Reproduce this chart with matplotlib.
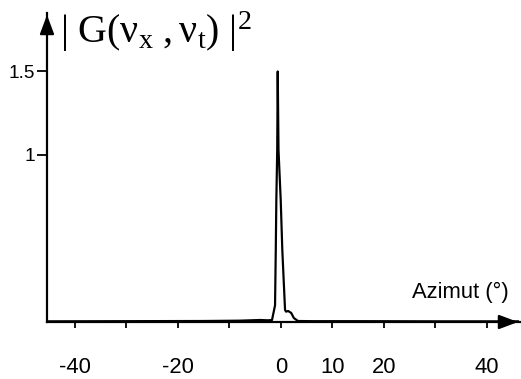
import numpy as np
import matplotlib
matplotlib.use("Agg")
import matplotlib.pyplot as plt
from matplotlib import font_manager

# data
azimut = [-45.0, -30.0, -15.0, -8.0, -4.0, -2.5, -1.73, -1.14, -1.0, -0.89, -0.72, -0.62,
          -0.47, -0.04, 0.27, 0.8, 1.0, 1.4, 2.0, 2.5, 3.3, 6.0, 15.0, 30.0, 46.0]
gain = [0.004, 0.005, 0.006, 0.008, 0.012, 0.010, 0.012, 0.10, 0.43, 0.73, 1.03, 1.50,
        1.03, 0.73, 0.43, 0.072, 0.062, 0.066, 0.054, 0.024, 0.006, 0.005, 0.005, 0.004, 0.004]

xticks = [-40, -30, -20, -10, 0, 10, 20, 30, 40]
xticklabels = ["-40", "", "-20", "", "0", "10", "20", "", "40"]
yticks = [1.0, 1.5]
yticklabels = ["1", "1.5"]

plt.rcParams['font.family'] = ['Liberation Sans', 'DejaVu Sans']
plt.rcParams['mathtext.fontset'] = 'custom'
plt.rcParams['mathtext.rm'] = 'Liberation Serif'
plt.rcParams['mathtext.it'] = 'Liberation Serif:italic'

# narrow face for the cramped y labels, if there is one
names = {f.name for f in font_manager.fontManager.ttflist}
ylab_family = 'Liberation Sans Narrow' if 'Liberation Sans Narrow' in names else 'Liberation Sans'

W, H = 521, 379
fig = plt.figure(figsize=(W / 72, H / 72), dpi=72)
# axes: left spine at x=47px, bottom spine at y=322px, top at 13px, right at 520px
ax = fig.add_axes([47 / W, (H - 322) / H, (520 - 47) / W, (322 - 13) / H])
ax.set_xlim(-45.4, 46.4)
ax.set_ylim(0, 1.85)

ax.plot(azimut, gain, color='k', lw=2.2, solid_joinstyle='round', clip_on=False)

for s in ['top', 'right']:
    ax.spines[s].set_visible(False)
for s in ['left', 'bottom']:
    ax.spines[s].set_linewidth(2.2)

# arrow heads on the axes
arr = dict(arrowstyle='-|>,head_length=0.8,head_width=0.3', color='k', lw=2.2, mutation_scale=20)
ax.annotate('', xy=(1, 0), xytext=(0.95, 0), xycoords='axes fraction', arrowprops=arr, annotation_clip=False)
ax.annotate('', xy=(0, 1), xytext=(0, 0.93), xycoords='axes fraction', arrowprops=arr, annotation_clip=False)

ax.set_xticks(xticks)
ax.set_xticklabels(xticklabels, fontsize=22)
ax.tick_params(axis='x', direction='out', length=6, width=1.8, pad=29)
ax.set_yticks(yticks)
ax.set_yticklabels(yticklabels, fontsize=19, family=ylab_family)
ax.tick_params(axis='y', direction='out', length=10, width=1.8, pad=2)

fig.text(60 / W, (H - 43) / H,
         r'$|\ \mathrm{G(ν_x\ ,ν_t)}\ |^2$',
         fontsize=40, ha='left', va='baseline')
fig.text(412 / W, (H - 298) / H, 'Azimut (°)', fontsize=22, ha='left', va='baseline')

fig.savefig('out.png', dpi=72)
